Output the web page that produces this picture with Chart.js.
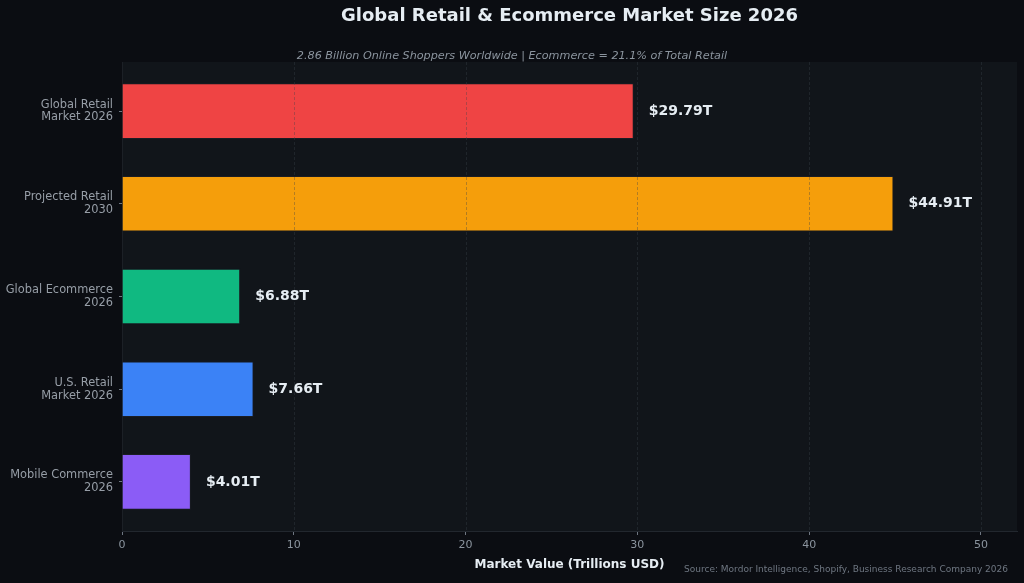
<!DOCTYPE html>
<html>
<head>
<meta charset="utf-8">
<script src="https://cdn.jsdelivr.net/npm/chart.js@4.4.1/dist/chart.umd.min.js"></script>
<style>
    html, body { margin: 0; padding: 0; background: #0b0d12; }
    #wrap { position: relative; width: 1024px; height: 583px; }
</style>
</head>
<body>
<div id="wrap"><canvas id="chart"></canvas></div>
<script>
const categories = [
    ['Global Retail', 'Market 2026'],
    ['Projected Retail', '2030'],
    ['Global Ecommerce', '2026'],
    ['U.S. Retail', 'Market 2026'],
    ['Mobile Commerce', '2026']
];
const marketValues = [29.79, 44.91, 6.88, 7.66, 4.01];
const barColors = ['#ef4444', '#f59e0b', '#10b981', '#3b82f6', '#8b5cf6'];
const xTicks = [0, 10, 20, 30, 40, 50];

const titleText = 'Global Retail & Ecommerce Market Size 2026';
const subtitleText = '2.86 Billion Online Shoppers Worldwide | Ecommerce = 21.1% of Total Retail';
const xTitleText = 'Market Value (Trillions USD)';
const sourceText = 'Source: Mordor Intelligence, Shopify, Business Research Company 2026';

const fontFamily = '"DejaVu Sans", Verdana, sans-serif';

// plot background, titles, value labels and source line
const decorations = {
    id: 'decorations',
    beforeDraw(chart) {
        const { ctx, chartArea: a } = chart;
        ctx.save();
        ctx.fillStyle = '#11151a';
        ctx.fillRect(a.left, a.top, a.right - a.left, a.bottom - a.top);
        ctx.restore();
    },
    afterDatasetsDraw(chart) {
        // vertical grid drawn over the bars, like the reference
        const { ctx, chartArea: a, scales } = chart;
        ctx.save();
        ctx.strokeStyle = 'rgba(60, 66, 76, 0.45)';
        ctx.lineWidth = 0.8;
        ctx.setLineDash([3, 2]);
        xTicks.forEach(v => {
            if (v === 0) return;
            const px = Math.round(scales.x.getPixelForValue(v)) + 0.5;
            ctx.beginPath();
            ctx.moveTo(px, a.top);
            ctx.lineTo(px, a.bottom);
            ctx.stroke();
        });
        ctx.restore();
    },
    afterDraw(chart) {
        const { ctx, chartArea: a } = chart;
        const mid = (a.left + a.right) / 2;
        ctx.save();
        ctx.textBaseline = 'middle';

        ctx.fillStyle = '#e6edf3';
        ctx.textAlign = 'center';
        ctx.font = 'bold 18px ' + fontFamily;
        ctx.fillText(titleText, mid, 16);

        ctx.fillStyle = '#8b949e';
        ctx.font = 'italic 11.2px ' + fontFamily;
        ctx.fillText(subtitleText, 512, 56);

        ctx.fillStyle = '#e6edf3';
        ctx.font = 'bold 12px ' + fontFamily;
        ctx.fillText(xTitleText, mid, 565);

        ctx.fillStyle = '#6e7681';
        ctx.textAlign = 'right';
        ctx.font = '9px ' + fontFamily;
        ctx.fillText(sourceText, 1008, 570);

        const meta = chart.getDatasetMeta(0);
        ctx.fillStyle = '#e6edf3';
        ctx.textAlign = 'left';
        ctx.font = 'bold 14px ' + fontFamily;
        meta.data.forEach((bar, i) => {
            ctx.fillText('$' + marketValues[i].toFixed(2) + 'T', bar.x + 15, bar.y);
        });
        ctx.restore();
    }
};

new Chart(document.getElementById('chart'), {
    type: 'bar',
    data: {
        datasets: [{
            data: marketValues.map((v, i) => ({ x: v, y: i })),
            backgroundColor: barColors,
            borderColor: '#1a1d24',
            borderWidth: 1,
            barPercentage: 0.6,
            categoryPercentage: 1.0
        }]
    },
    options: {
        indexAxis: 'y',
        responsive: true,
        maintainAspectRatio: false,
        animation: false,
        layout: { padding: { left: 0, top: 62, right: 7, bottom: 0 } },
        plugins: {
            legend: { display: false },
            tooltip: { enabled: false }
        },
        scales: {
            x: {
                type: 'linear',
                min: 0,
                max: 52.1,
                afterFit: (scale) => { scale.height = 52; },
                afterBuildTicks: (scale) => { scale.ticks = xTicks.map(v => ({ value: v })); },
                ticks: {
                    color: '#8b949e',
                    font: { family: fontFamily, size: 11 },
                    padding: 4,
                    maxRotation: 0
                },
                grid: {
                    drawOnChartArea: false,
                    tickColor: '#6e7681',
                    tickLength: 4
                },
                border: { color: '#22272e' }
            },
            y: {
                type: 'linear',
                reverse: true,
                offset: false,
                min: -0.53,
                max: categories.length - 1 + 0.53,
                afterFit: (scale) => { scale.width = 122; },
                afterBuildTicks: (scale) => { scale.ticks = categories.map((c, i) => ({ value: i })); },
                ticks: {
                    color: '#979ea7',
                    font: { family: fontFamily, size: 11.4, lineHeight: 1.12 },
                    padding: 6,
                    callback: (v) => categories[v]
                },
                grid: {
                    offset: false,
                    drawOnChartArea: false,
                    tickColor: '#6e7681',
                    tickLength: 3
                },
                border: { color: '#1c2026' }
            }
        }
    },
    plugins: [decorations]
});
</script>
</body>
</html>
